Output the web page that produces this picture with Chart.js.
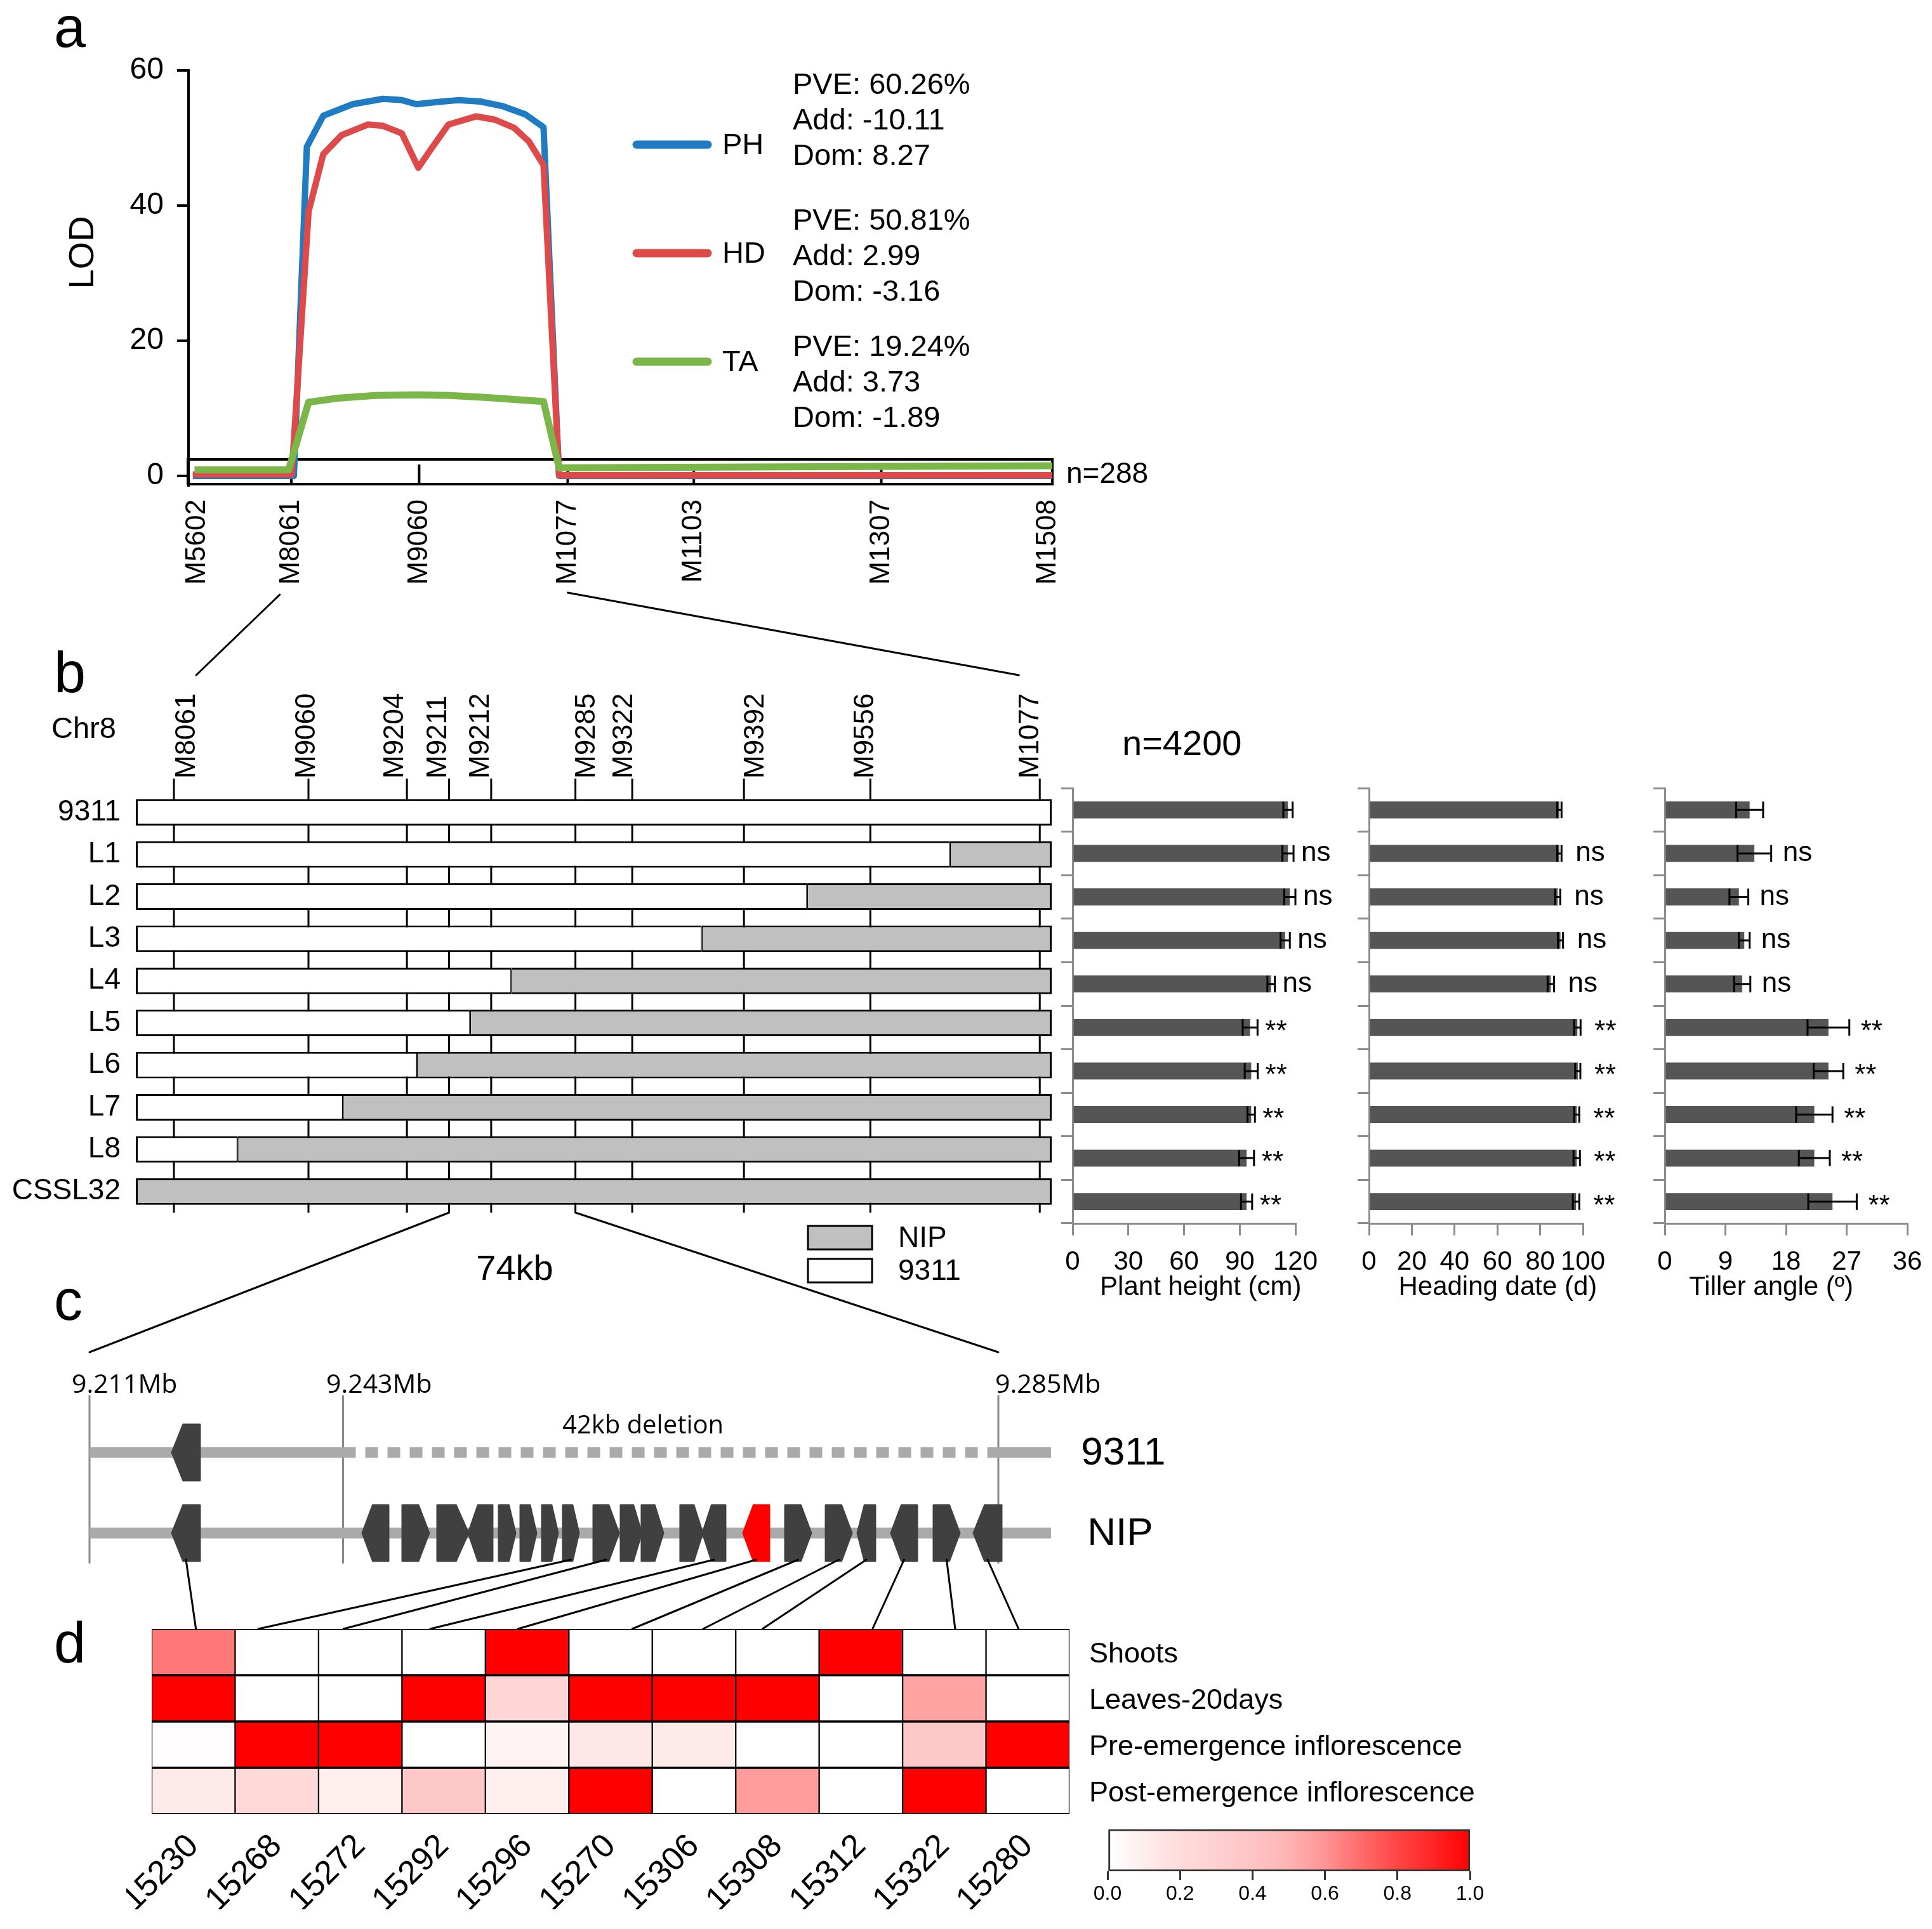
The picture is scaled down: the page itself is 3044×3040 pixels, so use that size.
<!DOCTYPE html>
<html>
<head>
<meta charset="utf-8">
<script src="https://cdn.jsdelivr.net/npm/chart.js@4.4.1/dist/chart.umd.min.js"></script>
<style>
html, body { margin: 0; padding: 0; background: #fff; }
#page { position: relative; width: 3044px; height: 3040px; overflow: hidden; background: #fff; }
#page canvas { position: absolute; }
</style>
</head>
<body>
<div id="page"></div>
<script>
const FONT = '"Liberation Sans", Arial, Helvetica, sans-serif';
const FONT_C = '"Open Sans", "DejaVu Sans", sans-serif';
Chart.defaults.font.family = FONT;
Chart.defaults.color = '#000';

// ---- panel a : LOD profile (x = position along the bar, 0-100)
const markerNamesA = ['M5602', 'M8061', 'M9060', 'M1077', 'M1103', 'M1307', 'M1508'];
const markerPosA = [1, 11.9, 26.7, 43.9, 58.5, 80.2, 99.5];
const lodTicks = [0, 20, 40, 60];
const phX = [0.5, 11.95, 12.2, 13.7, 15.6, 19.0, 22.5, 24.7, 26.4, 28.6, 31.2, 33.8, 36.4, 39.0, 41.1, 42.9, 100];
const phY = [0, 0, 0, 48.7, 53.3, 55.0, 55.8, 55.6, 55.0, 55.3, 55.6, 55.4, 54.7, 53.5, 51.6, 0, 0];
const hdX = [0.5, 11.95, 13.9, 15.6, 17.7, 20.8, 22.5, 24.7, 26.6, 28.1, 30.1, 33.3, 35.5, 37.7, 39.4, 41.1, 42.9, 100];
const hdY = [0.2, 0.2, 39.1, 47.6, 50.4, 52.0, 51.8, 50.7, 45.6, 48.4, 52.0, 53.2, 52.7, 51.5, 49.5, 46.0, 0.1, 0.1];
const taX = [0.7, 11.6, 13.9, 17.3, 21.6, 26.4, 30.3, 34.6, 39.0, 41.1, 42.9, 100];
const taY = [0.9, 0.9, 10.9, 11.5, 11.9, 12.0, 11.9, 11.6, 11.2, 11.0, 1.2, 1.5];
const traitNames = ['PH', 'HD', 'TA'];
const traitStats = [
	['PVE: 60.26%', 'Add: -10.11', 'Dom: 8.27'],
	['PVE: 50.81%', 'Add: 2.99', 'Dom: -3.16'],
	['PVE: 19.24%', 'Add: 3.73', 'Dom: -1.89']
];
const traitColors = ['#1f7bc2', '#de4949', '#7ab648'];

// ---- panel b : recombinant lines
const lineNames = ['9311', 'L1', 'L2', 'L3', 'L4', 'L5', 'L6', 'L7', 'L8', 'CSSL32'];
const break9311 = [100, 88.9, 73.3, 61.8, 41.0, 36.5, 30.7, 22.6, 11.1, 0];
const markerNamesB = ['M8061', 'M9060', 'M9204', 'M9211', 'M9212', 'M9285', 'M9322', 'M9392', 'M9556', 'M1077'];
const markerPosB = [4.16, 18.85, 29.6, 34.2, 38.8, 48.0, 54.2, 66.4, 80.2, 98.7];
const markerLabelPosB = [5.58, 18.73, 28.35, 33.08, 37.71, 49.24, 53.38, 67.73, 79.69, 97.73];
const plantHeight = [116.0, 116.0, 117.0, 114.5, 106.9, 95.6, 96.2, 96.2, 93.7, 93.7];
const plantHeightErr = [2.5, 3, 3, 2.5, 2, 4, 3.5, 2, 4, 3];
const headingDate = [89.0, 89.0, 88.2, 89.5, 85.0, 97.4, 97.6, 97.1, 97.1, 96.8];
const headingDateErr = [1, 1, 1.2, 1.2, 1.5, 1.5, 1.2, 1.2, 1.5, 1.5];
const tillerAngle = [12.6, 13.3, 11.0, 11.8, 11.5, 24.3, 24.3, 22.2, 22.2, 24.9];
const tillerAngleErr = [2.0, 2.5, 1.4, 0.8, 1.2, 3.1, 2.2, 2.7, 2.3, 3.6];
const sigLabels = ['', 'ns', 'ns', 'ns', 'ns', '**', '**', '**', '**', '**'];

// ---- panel c : gene models (x: 0 = 9.211Mb, 100 = 9.285Mb)
const mbLabels = ['9.211Mb', '9.243Mb', '9.285Mb'];
const mbPos = [0, 27.9, 100];
const mbLabelPos = [-1.96, 26.05, 99.65];
const geneStart = [9.08, 30.03, 34.43, 38.27, 41.69, 45.04, 47.42, 49.79, 52.09, 55.45, 58.45, 60.75, 65.01, 67.46, 71.93, 76.54, 81.01, 84.50, 88.20, 92.88, 97.28];
const geneEnd = [12.15, 32.89, 37.36, 41.69, 44.34, 46.86, 49.16, 51.54, 53.84, 58.24, 60.75, 63.13, 67.46, 69.97, 74.79, 79.40, 83.87, 86.45, 91.06, 95.74, 100.35];
const geneDir = ['L', 'L', 'R', 'R', 'L', 'R', 'R', 'R', 'R', 'R', 'R', 'R', 'R', 'L', 'L', 'R', 'R', 'L', 'L', 'R', 'L'];
const candidateGene = 14;
const deletionStart = 27.9, deletionEnd = 98.8, trackEnd = 105.8;
const track9311Y = 18.1, trackNipY = 5.4, geneHalf = 4.4;

// ---- panel d : expression heatmap
const geneIds = ['15230', '15268', '15272', '15292', '15296', '15270', '15306', '15308', '15312', '15322', '15280'];
const tissueNames = ['Shoots', 'Leaves-20days', 'Pre-emergence inflorescence', 'Post-emergence inflorescence'];
const shoots = [0.67, 0, 0, 0, 1, 0, 0, 0, 1, 0, 0];
const leaves20d = [1, 0, 0, 1, 0.26, 1, 1, 1, 0, 0.55, 0];
const preEmergence = [0.01, 1, 1, 0, 0.07, 0.14, 0.12, 0, 0, 0.37, 1];
const postEmergence = [0.12, 0.23, 0.1, 0.37, 0.1, 1, 0, 0.57, 0, 1, 0];
const heatLinkGene = [0, 8, 9, 13, 14, 15, 16, 17, 18, 19, 20];
const heatLinkPos = [0.03, 0.78, 1.80, 2.84, 3.89, 5.26, 6.11, 6.82, 8.14, 9.13, 9.89];
const colorTicks = [0, 0.2, 0.4, 0.6, 0.8, 1.0];
const colorStops = [[0, 255], [0.2, 220], [0.4, 196], [0.5, 179], [0.6, 148], [0.7, 107], [0.8, 69], [0.9, 37], [1, 0]];

const page = document.getElementById('page');

function heatColor(v) {
	let i = 1;
	while (i < colorStops.length - 1 && colorStops[i][0] < v) i++;
	const [a, ca] = colorStops[i - 1], [b, cb] = colorStops[i];
	const c = Math.round(ca + (cb - ca) * (v - a) / (b - a));
	return `rgb(255,${c},${c})`;
}
function pts(xs, ys) { return xs.map((x, i) => ({ x, y: ys[i] })); }
function fix(size) {
	return s => {
		if (s.isHorizontal()) s.height = size; else s.width = size;
		s.paddingLeft = s.paddingRight = s.paddingTop = s.paddingBottom = 0;
	};
}
function tickList(values) { return s => { s.ticks = values.map(v => ({ value: v })); }; }

// area = chart area in page px [x0,y0,x1,y1]; side = fixed axis sizes; m = spare margin
function makeChart(area, side, m, config) {
	const cv = document.createElement('canvas');
	const left = area[0] - side.l - m, top = area[1] - side.t - m;
	cv.width = area[2] - area[0] + side.l + side.r + 2 * m;
	cv.height = area[3] - area[1] + side.t + side.b + 2 * m;
	cv.style.left = left + 'px'; cv.style.top = top + 'px';
	cv._left = left; cv._top = top;
	page.appendChild(cv);
	const o = config.options = config.options || {};
	o.responsive = false; o.animation = false; o.devicePixelRatio = 1; o.events = [];
	o.layout = { padding: m };
	o.plugins = Object.assign({ legend: { display: false }, tooltip: { enabled: false } }, o.plugins || {});
	return new Chart(cv, config);
}
function toPage(chart) { const c = chart.ctx; c.save(); c.translate(-chart.canvas._left, -chart.canvas._top); return c; }
function gx(chart, v, axis = 'x') { return chart.scales[axis].getPixelForValue(v) + chart.canvas._left; }
function gy(chart, v, axis = 'y') { return chart.scales[axis].getPixelForValue(v) + chart.canvas._top; }

// ================= panel a
const lodDeco = {
	id: 'lodDeco',
	beforeDatasetsDraw(chart) {
		const { ctx, scales: { x, y } } = chart;
		const x0 = x.getPixelForValue(0), x1 = x.getPixelForValue(100);
		const yt = y.getPixelForValue(2.44), yb = y.getPixelForValue(-1.41);
		ctx.save();
		ctx.strokeStyle = '#000'; ctx.lineWidth = 4;
		ctx.strokeRect(x0 - 1, yt, x1 - x0 + 1, yb - yt - 2);
		ctx.beginPath();
		markerPosA.slice(1, -1).forEach(v => {
			const p = x.getPixelForValue(v);
			ctx.moveTo(p, y.getPixelForValue(1.7)); ctx.lineTo(p, yb - 2);
		});
		ctx.stroke();
		ctx.restore();
	},
	afterDraw(chart) {
		const ctx = toPage(chart);
		ctx.fillStyle = '#000';
		ctx.save();
		ctx.translate(132, 398); ctx.rotate(-Math.PI / 2);
		ctx.font = `56px ${FONT}`; ctx.textAlign = 'center'; ctx.textBaseline = 'middle';
		ctx.fillText('LOD', 0, 0);
		ctx.restore();
		const legY = [228, 399, 570], statY = [135, 349, 548];
		ctx.textBaseline = 'middle'; ctx.textAlign = 'left';
		traitNames.forEach((n, i) => {
			ctx.strokeStyle = traitColors[i]; ctx.lineWidth = 13; ctx.lineCap = 'round';
			ctx.beginPath(); ctx.moveTo(1003, legY[i]); ctx.lineTo(1115, legY[i]); ctx.stroke();
			ctx.font = `47px ${FONT}`;
			ctx.fillText(n, 1138, legY[i] + 2);
			traitStats[i].forEach((s, j) => ctx.fillText(s, 1249, statY[i] + j * 56));
		});
		ctx.font = `46px ${FONT}`;
		ctx.fillText('n=288', 1680, 748);
		ctx.restore();
	}
};

const chartLod = makeChart([297, 111, 1658, 765], { l: 203, r: 0, t: 0, b: 170 }, 170, {
	type: 'line',
	data: {
		datasets: [
			{ label: 'PH', data: pts(phX, phY), borderColor: traitColors[0], borderWidth: 10, order: 3 },
			{ label: 'HD', data: pts(hdX, hdY), borderColor: traitColors[1], borderWidth: 10, order: 2 },
			{ label: 'TA', data: pts(taX, taY), borderColor: traitColors[2], borderWidth: 11, order: 1 }
		]
	},
	options: {
		elements: { point: { radius: 0 }, line: { tension: 0, borderJoinStyle: 'round' } },
		scales: {
			x: {
				type: 'linear', min: 0, max: 100, afterFit: fix(170), afterBuildTicks: tickList(markerPosA),
				ticks: { autoSkip: false, minRotation: 90, maxRotation: 90, padding: 22, font: { size: 44 }, callback: (v, i) => markerNamesA[i] },
				grid: { display: false, drawTicks: false }, border: { display: false }
			},
			y: {
				min: -1.41, max: 60, afterFit: fix(203), afterBuildTicks: tickList(lodTicks),
				ticks: { padding: 21, font: { size: 48 } },
				grid: { drawOnChartArea: false, tickLength: 18, lineWidth: 4, color: '#000' },
				border: { color: '#000', width: 4 }
			}
		}
	},
	plugins: [lodDeco]
});

// ================= panel b (left) : graphical genotypes
const segDeco = {
	id: 'segDeco',
	beforeDatasetsDraw(chart) {
		const ctx = toPage(chart);
		ctx.strokeStyle = '#000'; ctx.lineWidth = 3;
		ctx.beginPath();
		markerPosB.forEach(v => { const p = gx(chart, v); ctx.moveTo(p, 1227); ctx.lineTo(p, 1911); });
		ctx.stroke();
		ctx.restore();
	},
	afterDraw(chart) {
		const ctx = toPage(chart);
		ctx.fillStyle = '#000';
		ctx.font = `44px ${FONT}`;
		markerNamesB.forEach((n, i) => {
			ctx.save();
			ctx.translate(gx(chart, markerLabelPosB[i]), 1227); ctx.rotate(-Math.PI / 2);
			ctx.textAlign = 'left'; ctx.textBaseline = 'middle';
			ctx.fillText(n, 0, 0);
			ctx.restore();
		});
		ctx.textBaseline = 'middle'; ctx.textAlign = 'left';
		ctx.font = `47px ${FONT}`;
		ctx.fillText('Chr8', 81, 1150);
		// legend
		ctx.lineWidth = 3; ctx.strokeStyle = '#000';
		ctx.fillStyle = '#c0c0c0'; ctx.fillRect(1273, 1932, 101, 37); ctx.strokeRect(1273, 1932, 101, 37);
		ctx.fillStyle = '#fff'; ctx.fillRect(1273, 1984, 101, 37); ctx.strokeRect(1273, 1984, 101, 37);
		ctx.fillStyle = '#000'; ctx.font = `46px ${FONT}`;
		ctx.fillText('NIP', 1415, 1952);
		ctx.fillText('9311', 1415, 2004);
		ctx.font = `56px ${FONT}`; ctx.textAlign = 'center';
		ctx.fillText('74kb', 811, 2002);
		ctx.restore();
	}
};
const nipPart = break9311.map(b => (100 - b) > 0 ? 100 - b : null);
const chartSeg = makeChart([214, 1247, 1657, 1911], { l: 200, r: 0, t: 0, b: 0 }, 200, {
	type: 'bar',
	data: {
		labels: lineNames,
		datasets: [
			{
				label: '9311', data: break9311.map(b => b > 0 ? b : null), backgroundColor: '#fff', borderColor: '#000', borderSkipped: false,
				borderWidth: c => ({ top: 3, bottom: 3, left: 3, right: nipPart[c.dataIndex] ? 1.5 : 3 })
			},
			{
				label: 'NIP', data: nipPart, backgroundColor: '#c0c0c0', borderColor: '#000', borderSkipped: false,
				borderWidth: c => ({ top: 3, bottom: 3, right: 3, left: break9311[c.dataIndex] > 0 ? 1.5 : 3 })
			}
		]
	},
	options: {
		indexAxis: 'y',
		datasets: { bar: { barPercentage: 0.63, categoryPercentage: 1 } },
		scales: {
			x: { type: 'linear', min: 0, max: 100, stacked: true, display: false },
			y: {
				stacked: true, afterFit: fix(200),
				ticks: { padding: 24, font: { size: 46 } },
				grid: { display: false, drawTicks: false }, border: { display: false }
			}
		}
	},
	plugins: [segDeco]
});

// ================= panel b (right) : phenotypes
const errBars = {
	id: 'errbars',
	afterDatasetsDraw(chart, args, opts) {
		const { ctx, scales: { x, y }, chartArea } = chart;
		const means = chart.data.datasets[0].data;
		ctx.save();
		ctx.strokeStyle = '#000'; ctx.fillStyle = '#000'; ctx.lineWidth = 3;
		ctx.textAlign = 'left'; ctx.textBaseline = 'middle';
		ctx.font = `44px ${FONT}`;
		means.forEach((m, i) => {
			const yc = y.getPixelForValue(i);
			const xl = x.getPixelForValue(m - opts.err[i]), xr = x.getPixelForValue(m + opts.err[i]);
			ctx.beginPath();
			ctx.moveTo(xl, yc); ctx.lineTo(xr, yc);
			ctx.moveTo(xl, yc - 13); ctx.lineTo(xl, yc + 13);
			ctx.moveTo(xr, yc - 13); ctx.lineTo(xr, yc + 13);
			ctx.stroke();
			const s = sigLabels[i];
			if (s) ctx.fillText(s, xr + opts.gap, yc + (s === '**' ? 8 : 0));
		});
		ctx.textAlign = 'center'; ctx.font = `42px ${FONT}`;
		ctx.fillText(opts.title, x.getPixelForValue(opts.titleAt), chartArea.bottom + 101);
		ctx.restore();
	}
};
function phenoChart(area, values, errs, max, step, title, titleAt, gap) {
	return makeChart(area, { l: 20, r: 0, t: 0, b: 130 }, 80, {
		type: 'bar',
		data: { labels: lineNames, datasets: [{ data: values, backgroundColor: '#555555', barPercentage: 0.39, categoryPercentage: 1 }] },
		options: {
			indexAxis: 'y',
			plugins: { errbars: { err: errs, title, titleAt, gap } },
			scales: {
				x: {
					type: 'linear', min: 0, max, afterFit: fix(130),
					ticks: { stepSize: step, autoSkip: false, maxRotation: 0, padding: 17, font: { size: 42 } },
					grid: { drawOnChartArea: false, tickLength: 19, lineWidth: 3, color: '#8c8c8c' },
					border: { color: '#8c8c8c', width: 3 }
				},
				y: {
					afterFit: fix(20), ticks: { display: false },
					grid: { drawOnChartArea: false, offset: true, tickLength: 18, lineWidth: 3, color: '#8c8c8c' },
					border: { color: '#8c8c8c', width: 3 }
				}
			}
		},
		plugins: [errBars]
	});
}
const chartPh = phenoChart([1690, 1242, 2041, 1928], plantHeight, plantHeightErr, 120, 30, 'Plant height (cm)', 69, 12);
const chartHd = phenoChart([2157, 1242, 2494, 1928], headingDate, headingDateErr, 100, 20, 'Heading date (d)', 60.2, 22);
const chartTa = phenoChart([2623, 1242, 3005, 1928], tillerAngle, tillerAngleErr, 36, 9, 'Tiller angle (\u00ba)', 15.8, 18);

// ================= panel c : gene models
function drawGene(ctx, xa, xb, yc, hh, dir, color) {
	const t = (xb - xa) * 0.4;
	ctx.beginPath();
	if (dir === 'R') {
		ctx.moveTo(xa, yc - hh); ctx.lineTo(xb - t, yc - hh); ctx.lineTo(xb, yc); ctx.lineTo(xb - t, yc + hh); ctx.lineTo(xa, yc + hh);
	} else {
		ctx.moveTo(xb, yc - hh); ctx.lineTo(xa + t, yc - hh); ctx.lineTo(xa, yc); ctx.lineTo(xa + t, yc + hh); ctx.lineTo(xb, yc + hh);
	}
	ctx.closePath();
	ctx.fillStyle = color; ctx.strokeStyle = color; ctx.lineWidth = 3; ctx.lineJoin = 'round';
	ctx.fill(); ctx.stroke();
}
const geneDeco = {
	id: 'geneDeco',
	beforeDatasetsDraw(chart) {
		const { ctx, scales: { x, y } } = chart;
		ctx.save();
		ctx.strokeStyle = '#8a8a8a'; ctx.lineWidth = 3;
		ctx.beginPath();
		mbPos.forEach(v => { const p = x.getPixelForValue(v); ctx.moveTo(p, y.getPixelForValue(27.1)); ctx.lineTo(p, y.getPixelForValue(0.6)); });
		ctx.stroke();
		ctx.fillStyle = '#000'; ctx.font = `41px ${FONT_C}`; ctx.textAlign = 'left'; ctx.textBaseline = 'middle';
		mbLabels.forEach((t, i) => ctx.fillText(t, x.getPixelForValue(mbLabelPos[i]), y.getPixelForValue(28.7)));
		ctx.restore();
	},
	afterDatasetsDraw(chart) {
		const { ctx, scales: { x, y } } = chart;
		ctx.save();
		const hh = y.getPixelForValue(0) - y.getPixelForValue(geneHalf);
		drawGene(ctx, x.getPixelForValue(geneStart[0]), x.getPixelForValue(geneEnd[0]), y.getPixelForValue(track9311Y), hh, geneDir[0], '#404040');
		geneStart.forEach((s, i) => {
			drawGene(ctx, x.getPixelForValue(s), x.getPixelForValue(geneEnd[i]), y.getPixelForValue(trackNipY), hh, geneDir[i], i === candidateGene ? '#ff0000' : '#404040');
		});
		ctx.fillStyle = '#000'; ctx.textBaseline = 'middle';
		ctx.font = `40px ${FONT_C}`; ctx.textAlign = 'center';
		ctx.fillText('42kb deletion', x.getPixelForValue(60.9), y.getPixelForValue(22.2));
		ctx.font = `62px ${FONT}`; ctx.textAlign = 'left';
		ctx.fillText('9311', x.getPixelForValue(109.1), y.getPixelForValue(track9311Y) + 2);
		ctx.fillText('NIP', x.getPixelForValue(109.8), y.getPixelForValue(trackNipY) + 2);
		ctx.restore();
	}
};
const trackStyle = { borderColor: '#aaaaaa', borderWidth: 17, borderCapStyle: 'butt', pointRadius: 0 };
const chartGene = makeChart([141, 2170, 1656, 2470], { l: 0, r: 0, t: 0, b: 0 }, 200, {
	type: 'line',
	data: {
		datasets: [
			Object.assign({ data: pts([0, deletionStart], [track9311Y, track9311Y]) }, trackStyle),
			Object.assign({ data: pts([deletionStart, deletionEnd], [track9311Y, track9311Y]), borderDash: [20, 15] }, trackStyle),
			Object.assign({ data: pts([deletionEnd, trackEnd], [track9311Y, track9311Y]) }, trackStyle),
			Object.assign({ data: pts([0, trackEnd], [trackNipY, trackNipY]) }, trackStyle)
		]
	},
	options: {
		scales: {
			x: { type: 'linear', min: 0, max: trackEnd, display: false },
			y: { type: 'linear', min: 0, max: 30, display: false }
		}
	},
	plugins: [geneDeco]
});

// ================= panel d : heatmap
const heatRows = [shoots, leaves20d, preEmergence, postEmergence];
const chartHeat = makeChart([239, 2567, 1685, 2859], { l: 0, r: 720, t: 0, b: 150 }, 40, {
	type: 'bar',
	data: {
		labels: geneIds,
		datasets: heatRows.map((row, r) => ({
			label: tissueNames[r],
			data: row.map(() => [heatRows.length - 1 - r, heatRows.length - r]),
			backgroundColor: row.map(heatColor),
			borderColor: '#000', borderSkipped: false,
			borderWidth: { top: 2, bottom: 2, left: 1.5, right: 1.5 },
			barPercentage: 1, categoryPercentage: 1, grouped: false
		}))
	},
	options: {
		scales: {
			x: {
				afterFit: fix(150),
				ticks: { autoSkip: false, minRotation: 45, maxRotation: 45, padding: 20, font: { size: 52 } },
				grid: { display: false, drawTicks: false }, border: { display: false }
			},
			y: { type: 'linear', min: 0, max: 4, display: false },
			yr: {
				type: 'category', labels: tissueNames, position: 'right', offset: true, afterFit: fix(720),
				ticks: { padding: 31, labelOffset: 4, font: { size: 45 } },
				grid: { display: false, drawTicks: false }, border: { display: false }
			}
		}
	}
});

// colour key
const chartKey = makeChart([1745, 2883, 2316, 2949], { l: 0, r: 0, t: 0, b: 60 }, 40, {
	type: 'bar',
	data: {
		labels: [''],
		datasets: [{
			data: [[0, 1]],
			backgroundColor: c => {
				const ch = c.chart;
				if (!ch.chartArea) return '#ff0000';
				const g = ch.ctx.createLinearGradient(ch.scales.x.getPixelForValue(0), 0, ch.scales.x.getPixelForValue(1), 0);
				colorStops.forEach(([v]) => g.addColorStop(v, heatColor(v)));
				return g;
			},
			borderColor: '#333', borderWidth: 3, borderSkipped: false,
			barPercentage: 1, categoryPercentage: 1
		}]
	},
	options: {
		indexAxis: 'y',
		scales: {
			x: {
				type: 'linear', min: 0, max: 1, afterFit: fix(60), afterBuildTicks: tickList(colorTicks),
				ticks: { padding: 3, font: { size: 32 }, callback: v => v.toFixed(1) },
				grid: { drawOnChartArea: false, tickLength: 14, lineWidth: 3, color: '#333' },
				border: { display: false }
			},
			y: { display: false }
		}
	}
});

// ================= overlay : panel letters and linking lines
const ov = document.createElement('canvas');
ov.width = 3044; ov.height = 3040; ov.style.left = '0px'; ov.style.top = '0px';
page.appendChild(ov);
const o = ov.getContext('2d');
function seg(x1, y1, x2, y2) { o.beginPath(); o.moveTo(x1, y1); o.lineTo(x2, y2); o.stroke(); }
o.strokeStyle = '#000'; o.lineWidth = 3; o.lineCap = 'round';
seg(gx(chartLod, markerPosA[1]) - 18, 937, gx(chartSeg, markerPosB[0]) + 35, 1064);
seg(gx(chartLod, markerPosA[3]), 934, gx(chartSeg, markerPosB[9]) - 33, 1064);
seg(gx(chartSeg, markerPosB[3]), 1911, gx(chartGene, mbPos[0]), 2131);
seg(gx(chartSeg, markerPosB[5]), 1911, gx(chartGene, mbPos[2]), 2131);
heatLinkGene.forEach((g, i) => {
	seg(gx(chartGene, (geneStart[g] + geneEnd[g]) / 2), gy(chartGene, trackNipY - geneHalf) - 2,
		gx(chartHeat, heatLinkPos[i]), gy(chartHeat, 4));
});
o.fillStyle = '#000'; o.textAlign = 'left'; o.textBaseline = 'alphabetic';
o.font = `90px ${FONT}`;
o.fillText('a', 85, 74);
o.fillText('b', 85, 1091);
o.fillText('c', 85, 2080);
o.fillText('d', 85, 2620);
o.font = `56px ${FONT}`; o.textBaseline = 'middle';
o.fillText('n=4200', 1768, 1175);
</script>
</body>
</html>
